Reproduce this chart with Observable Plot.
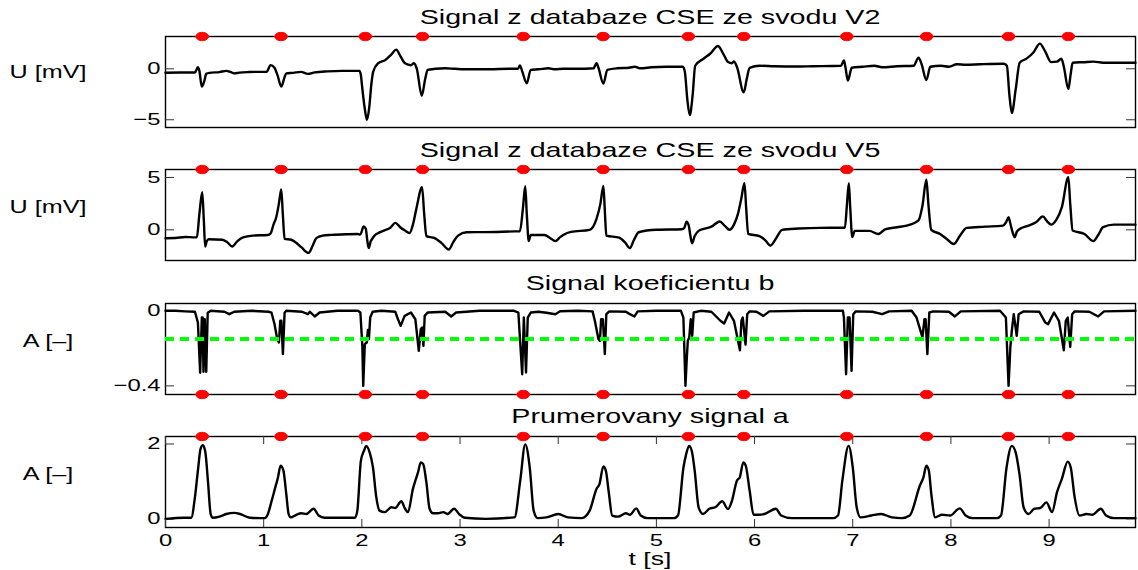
<!DOCTYPE html>
<html><head><meta charset="utf-8">
<script src="https://cdn.jsdelivr.net/npm/d3@7"></script>
<script src="https://cdn.jsdelivr.net/npm/@observablehq/plot@0.6"></script>
<style>
html,body{margin:0;padding:0;background:#fff;}
#fig{position:relative;width:1138px;height:570px;overflow:hidden;background:#fff;font-family:"Liberation Sans",Arial,sans-serif;}
</style></head><body><div id="fig"></div>
<script>
// ---- data ----
const titles = ["Signal z databaze CSE ze svodu V2", "Signal z databaze CSE ze svodu V5", "Signal koeficientu b", "Prumerovany signal a"];
const yLabels = ["U [mV]", "U [mV]", "A [–]", "A [–]"];
const xLabel = "t [s]";
const xTicks = [0,1,2,3,4,5,6,7,8,9];
const yTicks1 = [-5, 0];
const yTicks2 = [0, 5];
const yTicks3 = [-0.4, 0];
const yTicks4 = [0, 2];
const thresholdB = [-0.15];
const peakTimes = [0.374, 1.177, 2.035, 2.618, 3.644, 4.457, 5.326, 5.890, 6.939, 7.752, 8.587, 9.196];

const leadV2 = [[0,-0.38],[0.15,-0.36],[0.3,-0.36],[0.33,0.16],[0.345,-0.2],[0.37,-1.75],[0.395,-1.2],[0.415,-0.5],[0.45,-0.4],[0.55,-0.32],[0.62,-0.2],[0.66,-0.3],[0.70,-0.45],[0.75,-0.38],[0.85,-0.32],[0.95,-0.3],[1.03,-0.3],[1.07,0.36],[1.11,0.1],[1.14,-0.6],[1.18,-1.75],[1.21,-0.9],[1.23,-0.45],[1.3,-0.4],[1.38,-0.3],[1.45,-0.5],[1.52,-0.35],[1.65,-0.25],[1.8,-0.2],[1.975,-0.2],[1.99,-0.6],[2.0,-1.5],[2.028,-3.8],[2.052,-5.0],[2.075,-3.8],[2.097,-1.5],[2.115,-0.3],[2.165,0.54],[2.24,0.87],[2.3,1.4],[2.35,1.88],[2.39,1.3],[2.44,0.54],[2.5,0.35],[2.53,0.55],[2.56,0.0],[2.61,-2.64],[2.645,-1.0],[2.67,-0.1],[2.75,0.0],[2.85,0.05],[2.95,0.0],[3.1,-0.05],[3.3,-0.05],[3.5,0.0],[3.59,0.0],[3.61,0.33],[3.635,-0.3],[3.68,-1.42],[3.72,-0.1],[3.8,-0.05],[3.9,0.05],[3.97,-0.05],[4.05,0.0],[4.2,0.0],[4.36,0.05],[4.39,0.55],[4.41,0.1],[4.46,-1.45],[4.5,-0.1],[4.6,0.05],[4.72,0.1],[4.78,0.2],[4.84,0.05],[4.95,0.15],[5.1,0.2],[5.27,0.2],[5.29,-0.3],[5.315,-3.0],[5.34,-4.55],[5.37,-2.5],[5.395,0.3],[5.48,0.99],[5.55,1.5],[5.627,2.24],[5.68,1.5],[5.73,0.66],[5.77,0.55],[5.79,0.72],[5.82,0.2],[5.89,-2.31],[5.92,-1.0],[5.95,0.1],[6.05,0.3],[6.2,0.25],[6.4,0.22],[6.6,0.25],[6.88,0.3],[6.91,0.82],[6.925,0.2],[6.95,-1.16],[6.99,0.1],[7.1,0.2],[7.22,0.3],[7.3,0.15],[7.45,0.25],[7.62,0.3],[7.67,1.09],[7.7,0.5],[7.75,-1.1],[7.79,0.2],[7.9,0.3],[7.98,0.2],[8.06,0.45],[8.15,0.4],[8.3,0.45],[8.54,0.5],[8.57,0.3],[8.595,-2.5],[8.62,-4.35],[8.66,-2.0],[8.70,0.6],[8.77,1.0],[8.84,1.6],[8.906,2.47],[8.96,1.7],[9.02,0.66],[9.08,0.7],[9.125,0.98],[9.15,0.2],[9.196,-1.98],[9.22,-0.5],[9.24,0.6],[9.35,0.65],[9.45,0.7],[9.55,0.6],[9.7,0.6],[9.88,0.6]];

const leadV5 = [[0,-0.8],[0.1,-0.78],[0.2,-0.68],[0.3,-0.72],[0.32,-0.7],[0.345,1.5],[0.374,3.6],[0.39,1.0],[0.404,-1.6],[0.42,-1.1],[0.44,-0.9],[0.58,-0.95],[0.63,-1.2],[0.68,-1.6],[0.73,-1.1],[0.79,-0.72],[0.89,-0.55],[1.04,-0.5],[1.07,-0.35],[1.1,0.5],[1.128,1.2],[1.155,2.5],[1.179,3.85],[1.195,1.5],[1.213,-0.86],[1.28,-0.95],[1.34,-1.3],[1.383,-1.66],[1.458,-2.2],[1.5,-1.5],[1.536,-0.8],[1.6,-0.55],[1.69,-0.48],[1.85,-0.42],[1.96,-0.4],[1.984,-0.45],[2.018,0.32],[2.04,0.1],[2.055,-1.0],[2.07,-1.75],[2.09,-1.1],[2.103,-0.9],[2.13,-0.55],[2.18,-0.25],[2.232,-0.05],[2.29,0.2],[2.341,0.66],[2.39,0.25],[2.436,-0.05],[2.487,-0.3],[2.52,0.5],[2.555,2.0],[2.613,4.07],[2.635,1.5],[2.657,-0.6],[2.742,-0.8],[2.81,-1.25],[2.885,-1.88],[2.93,-1.2],[2.98,-0.55],[3.065,-0.23],[3.25,-0.22],[3.55,-0.15],[3.61,-0.13],[3.64,2.0],[3.664,4.17],[3.68,1.5],[3.70,-1.08],[3.72,-0.5],[3.86,-0.5],[3.92,-0.8],[3.97,-1.08],[4.02,-0.7],[4.07,-0.4],[4.13,-0.2],[4.32,0.0],[4.39,1.05],[4.43,2.5],[4.46,4.2],[4.475,1.8],[4.49,-0.55],[4.62,-0.75],[4.68,-1.2],[4.73,-1.75],[4.77,-1.0],[4.82,-0.23],[5.0,0.0],[5.258,0.05],[5.285,0.2],[5.307,0.77],[5.33,0.4],[5.345,-0.5],[5.363,-1.28],[5.39,-0.6],[5.43,-0.1],[5.48,0.08],[5.56,0.3],[5.645,0.8],[5.7,0.35],[5.745,0.0],[5.79,0.5],[5.83,1.5],[5.865,3.0],[5.897,4.45],[5.915,2.0],[5.935,-0.38],[6.05,-0.6],[6.11,-1.0],[6.16,-1.5],[6.22,-0.8],[6.28,0.0],[6.45,0.12],[6.66,0.19],[6.92,0.2],[6.94,2.3],[6.96,4.45],[6.975,2.0],[6.995,-0.7],[7.02,-0.1],[7.17,-0.1],[7.26,-0.4],[7.33,0.05],[7.45,0.25],[7.55,0.4],[7.67,0.9],[7.71,2.3],[7.75,4.8],[7.77,2.5],[7.80,0.0],[7.89,-0.4],[7.96,-0.9],[8.03,-1.35],[8.09,-0.6],[8.16,0.19],[8.35,0.3],[8.53,0.4],[8.56,0.7],[8.587,1.2],[8.605,0.6],[8.63,-0.3],[8.65,-0.7],[8.67,-0.2],[8.70,0.08],[8.79,0.4],[8.87,0.75],[8.936,1.28],[8.98,0.8],[9.02,0.5],[9.07,0.9],[9.13,2.16],[9.196,5.03],[9.215,2.5],[9.24,-0.07],[9.36,-0.4],[9.45,-1.08],[9.5,-0.5],[9.55,0.25],[9.66,0.5],[9.88,0.5]];

const coefB = [[0,0],[0.1,0],[0.2,-0.003],[0.3,-0.005],[0.33,-0.062],[0.353,-0.33],[0.37,-0.036],[0.378,-0.036],[0.387,-0.325],[0.4,-0.045],[0.415,-0.325],[0.43,-0.01],[0.46,0],[0.6,-0.005],[0.65,-0.018],[0.7,-0.005],[0.88,0],[1.05,-0.005],[1.08,-0.01],[1.11,-0.07],[1.138,-0.151],[1.155,-0.169],[1.169,-0.053],[1.18,-0.053],[1.196,-0.231],[1.213,-0.01],[1.23,0],[1.39,-0.005],[1.45,-0.018],[1.47,-0.005],[1.52,-0.03],[1.57,-0.009],[1.75,0],[1.96,0],[1.985,-0.009],[2.005,-0.187],[2.014,-0.4],[2.03,-0.178],[2.05,-0.169],[2.062,-0.102],[2.072,-0.151],[2.085,-0.036],[2.11,-0.005],[2.2,0],[2.34,-0.005],[2.368,-0.045],[2.395,-0.08],[2.436,-0.027],[2.5,-0.009],[2.545,-0.045],[2.58,-0.213],[2.6,-0.098],[2.613,-0.089],[2.627,-0.187],[2.64,-0.027],[2.67,-0.009],[2.85,-0.005],[2.91,-0.03],[2.96,-0.009],[3.2,0],[3.55,0],[3.594,-0.009],[3.633,-0.338],[3.65,-0.036],[3.672,-0.329],[3.69,-0.036],[3.72,-0.009],[3.8,-0.005],[3.88,-0.01],[3.97,-0.018],[4.02,-0.002],[4.2,0],[4.35,-0.003],[4.373,-0.053],[4.41,-0.151],[4.425,-0.16],[4.437,-0.045],[4.455,-0.045],[4.475,-0.231],[4.49,-0.018],[4.52,-0.003],[4.69,-0.005],[4.72,-0.015],[4.776,-0.03],[4.81,-0.003],[5.0,0],[5.25,0],[5.275,-0.036],[5.296,-0.4],[5.31,-0.249],[5.32,-0.16],[5.335,-0.142],[5.35,-0.045],[5.365,-0.133],[5.38,-0.009],[5.45,0],[5.56,-0.005],[5.652,-0.053],[5.69,-0.068],[5.74,-0.009],[5.79,-0.053],[5.851,-0.21],[5.866,-0.053],[5.88,-0.036],[5.908,-0.18],[5.925,-0.018],[5.95,-0.003],[6.02,-0.005],[6.09,-0.027],[6.15,-0.003],[6.5,0],[6.9,0],[6.91,-0.036],[6.932,-0.338],[6.95,-0.036],[6.968,-0.036],[6.988,-0.32],[7.005,-0.018],[7.03,-0.003],[7.2,-0.005],[7.3,-0.018],[7.37,-0.003],[7.6,0],[7.65,-0.036],[7.71,-0.142],[7.73,-0.045],[7.742,-0.045],[7.76,-0.231],[7.78,-0.009],[7.82,-0.003],[7.98,-0.005],[8.04,-0.03],[8.1,-0.003],[8.5,0],[8.56,-0.036],[8.587,-0.4],[8.605,-0.196],[8.62,-0.107],[8.64,-0.018],[8.67,-0.133],[8.69,-0.018],[8.74,-0.003],[8.9,-0.005],[8.96,-0.062],[8.99,-0.071],[9.05,-0.009],[9.1,-0.053],[9.15,-0.21],[9.17,-0.053],[9.19,-0.036],[9.215,-0.192],[9.235,-0.018],[9.26,-0.003],[9.41,-0.005],[9.5,-0.03],[9.56,-0.003],[9.88,0]];

const avgA = [[0,0.0],[0.19,0.03],[0.262,0.03],[0.3,0.58],[0.33,1.29],[0.357,1.87],[0.38,1.97],[0.405,1.8],[0.432,1.02],[0.46,0.13],[0.48,0.03],[0.55,0.06],[0.619,0.13],[0.703,0.16],[0.76,0.13],[0.86,0.03],[1.01,0.02],[1.043,0.13],[1.077,0.44],[1.12,0.86],[1.145,1.1],[1.172,1.42],[1.2,1.3],[1.23,0.67],[1.254,0.13],[1.275,0.04],[1.332,0.11],[1.383,0.15],[1.434,0.13],[1.509,0.27],[1.56,0.09],[1.62,0.03],[1.93,0.03],[1.954,0.22],[1.99,1.55],[2.022,1.82],[2.045,1.95],[2.08,1.77],[2.113,1.38],[2.147,0.58],[2.18,0.22],[2.233,0.18],[2.30,0.31],[2.34,0.29],[2.402,0.47],[2.44,0.27],[2.47,0.18],[2.52,0.80],[2.545,1.02],[2.572,1.24],[2.6,1.51],[2.625,1.46],[2.657,0.98],[2.69,0.27],[2.725,0.15],[2.776,0.15],[2.83,0.18],[2.872,0.13],[2.94,0.27],[2.99,0.13],[3.05,0.03],[3.26,0.0],[3.555,0.04],[3.613,1.02],[3.664,1.99],[3.71,1.37],[3.75,0.22],[3.79,0.02],[3.88,0.04],[4.0,0.13],[4.1,0.04],[4.24,0.02],[4.32,0.22],[4.39,0.8],[4.42,0.93],[4.46,1.4],[4.485,1.29],[4.515,0.71],[4.55,0.09],[4.61,0.06],[4.69,0.15],[4.73,0.11],[4.795,0.28],[4.84,0.09],[4.91,0.02],[5.18,0.02],[5.22,0.09],[5.276,1.38],[5.30,1.69],[5.333,1.95],[5.36,1.82],[5.39,1.29],[5.43,0.31],[5.475,0.13],[5.54,0.27],[5.6,0.31],[5.67,0.47],[5.73,0.26],[5.77,0.49],[5.82,1.02],[5.85,1.11],[5.885,1.51],[5.91,1.42],[5.95,0.75],[5.99,0.11],[6.04,0.11],[6.1,0.13],[6.217,0.27],[6.27,0.09],[6.38,0.02],[6.8,0.02],[6.85,0.09],[6.894,1.02],[6.958,1.95],[7.0,1.38],[7.04,0.31],[7.08,0.04],[7.19,0.09],[7.29,0.13],[7.4,0.04],[7.5,0.02],[7.58,0.09],[7.684,0.89],[7.72,1.11],[7.75,1.42],[7.775,1.29],[7.8,0.67],[7.84,0.04],[7.91,0.11],[7.99,0.09],[8.09,0.28],[8.15,0.09],[8.22,0.02],[8.47,0.02],[8.51,0.09],[8.567,1.38],[8.62,1.95],[8.66,1.77],[8.70,1.16],[8.74,0.31],[8.79,0.13],[8.85,0.27],[8.91,0.29],[8.973,0.44],[9.03,0.18],[9.08,0.71],[9.13,1.07],[9.19,1.53],[9.22,1.38],[9.26,0.58],[9.31,0.09],[9.38,0.13],[9.44,0.11],[9.527,0.27],[9.58,0.09],[9.66,0.02],[9.88,0.02]];

// ---- layout / style ----
const W = 1138, ML = 165, MR = 3, FH = 91, MT = 14;
const frameW = W - ML - MR;
const xDomain = [0, 9.88];
const SX = 1.4; // horizontal text stretch of the reference
const fmt = d3.format("~g");
const fig = document.getElementById("fig");

const star = {draw(ctx) {
  const p = [[6.5,0],[5.5,2],[3.5,3.6],[1,4.1],[-1,4.1],[-3.5,3.6],[-5.5,2],[-6.5,0],[-5.5,-2],[-3.5,-3.6],[-1,-4.1],[1,-4.1],[3.5,-3.6],[5.5,-2]];
  ctx.moveTo(p[0][0], p[0][1]);
  for (let i = 1; i < p.length; ++i) ctx.lineTo(p[i][0], p[i][1]);
  ctx.closePath();
}};

const panels = [
  {data: leadV2, domain: [-5.76, 3.17], ticks: yTicks1, top: 36.0, curve: "monotone-x", dots: "top"},
  {data: leadV5, domain: [-2.93, 5.76], ticks: yTicks2, top: 169.3, curve: "monotone-x", dots: "top"},
  {data: coefB, domain: [-0.446, 0.039], ticks: yTicks3, top: 302.6, curve: "linear", dots: "bottom", rule: thresholdB},
  {data: avgA, domain: [-0.23, 2.2], ticks: yTicks4, top: 435.6, curve: "monotone-x", dots: "top", xaxis: true}
];

function stretchText(svg) {
  svg.querySelectorAll("text").forEach(el => {
    let t = el.getAttribute("transform") || "";
    const xa = el.getAttribute("x");
    if (xa != null && xa !== "" && isFinite(+xa)) {
      t += ` translate(${+xa},0)`;
      el.setAttribute("x", 0);
    }
    el.setAttribute("transform", `${t} scale(${SX},1)`.trim());
  });
}

panels.forEach((p, i) => {
  const MB = p.xaxis ? 40 : 12;
  const rows = p.data.map(([t, v]) => ({t, v}));
  const marks = [
    Plot.frame({stroke: "black", strokeWidth: 1.4}),
    Plot.tickY(p.ticks, {y: d => d, insetRight: frameW - 9, stroke: "#333", strokeWidth: 1}),
    Plot.tickY(p.ticks, {y: d => d, insetLeft: frameW - 9, stroke: "#333", strokeWidth: 1}),
    Plot.line(rows, {x: "t", y: "v", curve: p.curve, stroke: "black", strokeWidth: 2.4, strokeLinejoin: "round"})
  ];
  if (p.rule) marks.push(Plot.ruleY(p.rule, {y: d => d, stroke: "#00ff00", strokeWidth: 4, strokeDasharray: "9,6"}));
  if (p.xaxis) {
    marks.push(Plot.tickX(xTicks, {x: d => d, insetBottom: FH - 8, stroke: "#333", strokeWidth: 1}));
    marks.push(Plot.tickX(xTicks, {x: d => d, insetTop: FH - 8, stroke: "#333", strokeWidth: 1}));
  }
  marks.push(Plot.dot(peakTimes, {x: d => d, frameAnchor: p.dots, symbol: star, fill: "#ff0000", stroke: "#ff0000", strokeWidth: 1}));
  const svg = Plot.plot({
    width: W, height: MT + FH + MB,
    marginLeft: ML, marginRight: MR, marginTop: MT, marginBottom: MB,
    style: {background: "transparent", fontFamily: "'Liberation Sans', Arial, sans-serif", fontSize: "17px", color: "black", overflow: "visible"},
    x: {domain: xDomain, axis: p.xaxis ? "bottom" : null, ticks: xTicks, tickFormat: fmt, tickSize: 0, tickPadding: 6, label: null},
    y: {domain: p.domain, ticks: p.ticks, tickFormat: fmt, tickSize: 0, tickPadding: 5, label: null},
    marks
  });
  svg.style.position = "absolute";
  svg.style.left = "0px";
  svg.style.top = (p.top - MT) + "px";
  fig.appendChild(svg);
  stretchText(svg);
});

// ---- titles and axis labels ----
const ns = "http://www.w3.org/2000/svg";
const over = document.createElementNS(ns, "svg");
over.setAttribute("width", W); over.setAttribute("height", 570);
over.style.position = "absolute"; over.style.left = "0px"; over.style.top = "0px";
over.style.fontFamily = "'Liberation Sans', Arial, sans-serif";
fig.appendChild(over);
function addText(str, cx, base, size) {
  const t = document.createElementNS(ns, "text");
  t.setAttribute("text-anchor", "middle");
  t.setAttribute("font-size", size);
  t.setAttribute("fill", "black");
  t.setAttribute("transform", `translate(${cx},${base}) scale(${SX},1)`);
  t.textContent = str;
  over.appendChild(t);
}
const titleBase = [24, 157, 290, 423];
const ylabBase = [78, 213, 347, 480];
titles.forEach((s, i) => addText(s, 650, titleBase[i], 20.5));
yLabels.forEach((s, i) => addText(s, 48, ylabBase[i], 18));
addText(xLabel, 650, 565, 19);
</script></body></html>
